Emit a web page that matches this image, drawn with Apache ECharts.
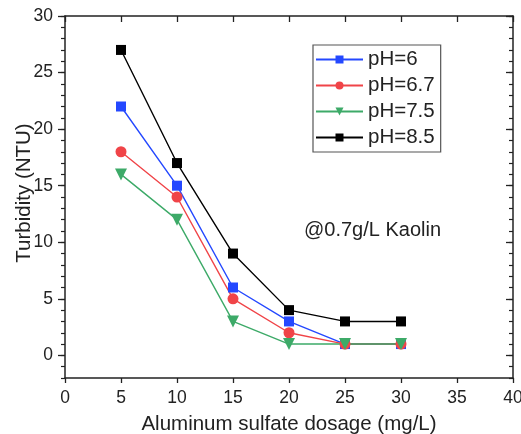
<!DOCTYPE html>
<html><head><meta charset="utf-8">
<script src="https://cdn.jsdelivr.net/npm/echarts@6/dist/echarts.min.js"></script>
<style>html,body{margin:0;padding:0;background:#fff}#c{width:521px;height:434px}</style>
</head><body><div id="c"></div>
<script>
var dosage = [5, 10, 15, 20, 25, 30];
var ph6 = [22, 15, 6, 3, 1, 1];
var ph67 = [18, 14, 5, 2, 1, 1];
var ph75 = [16, 12, 3, 1, 1, 1];
var ph85 = [27, 17, 9, 4, 3, 3];
var yMajor = [0, 5, 10, 15, 20, 25, 30];
var seriesNames = ['pH=6', 'pH=6.7', 'pH=7.5', 'pH=8.5'];

function pairs(v){ return dosage.map(function(x,i){ return [x, v[i]]; }); }
var FONT = 'Liberation Sans, Arial, sans-serif';
var AX = '#222';
var lineAxis = {onZero:false, lineStyle:{color:AX, width:1.5}};

var chart = echarts.init(document.getElementById('c'));
function mk(name, data, color, symbol, size, rot){
  return {name:name, type:'line', data:pairs(data), xAxisIndex:0, yAxisIndex:0,
    symbol:symbol, symbolSize:size, symbolRotate:rot||0, itemStyle:{color:color},
    lineStyle:{color:color, width:1.4}, animation:false};
}
chart.setOption({
  animation:false,
  backgroundColor:'#fff',
  grid:{left:65, right:8, top:16, bottom:56, containLabel:false, outerBoundsMode:'none'},
  xAxis:[
    {type:'value', position:'bottom', min:0, max:40, interval:5,
     axisLine:lineAxis, axisTick:{length:5, lineStyle:{color:AX, width:1.3}},
     axisLabel:{color:AX, fontSize:17.5, fontFamily:FONT, margin:11},
     splitLine:{show:false},
     name:'Aluminum sulfate dosage (mg/L)', nameLocation:'middle', nameGap:36,
     nameTextStyle:{color:AX, fontSize:20.5, fontFamily:FONT}},
    {type:'value', position:'top', min:0, max:40, interval:5,
     axisLine:lineAxis, axisTick:{inside:true, length:6, lineStyle:{color:AX, width:1.3}},
     axisLabel:{show:false}, splitLine:{show:false}}
  ],
  yAxis:[
    {type:'value', position:'left', min:-2, max:30,
     axisLine:lineAxis,
     axisTick:{length:7, customValues:yMajor, lineStyle:{color:AX, width:1.3}},
     axisLabel:{customValues:yMajor, color:AX, fontSize:17.5, fontFamily:FONT, margin:12},
     splitLine:{show:false}},
    {type:'value', position:'left', min:-2, max:30, interval:1,
     axisLine:{show:false, onZero:false}, axisTick:{length:4, lineStyle:{color:AX, width:1.2}},
     axisLabel:{show:false}, splitLine:{show:false}},
    {type:'value', position:'right', min:-2, max:30,
     axisLine:lineAxis,
     axisTick:{inside:true, length:7, customValues:yMajor, lineStyle:{color:AX, width:1.3}},
     axisLabel:{show:false}, splitLine:{show:false}},
    {type:'value', position:'right', min:-2, max:30, interval:1,
     axisLine:{show:false, onZero:false}, axisTick:{inside:true, length:4, lineStyle:{color:AX, width:1.2}},
     axisLabel:{show:false}, splitLine:{show:false}}
  ],
  legend:{
    orient:'vertical', left:313, top:45,
    data:seriesNames,
    itemWidth:47, itemHeight:10, itemGap:5,
    padding:[4,6,4,2],
    borderColor:'#555', borderWidth:1.2,
    textStyle:{color:AX, fontSize:20.5, fontFamily:FONT, lineHeight:20}
  },
  graphic:[
    {type:'text', left:304, top:220,
     style:{text:'@0.7g/L Kaolin', fill:AX, fontSize:20, fontFamily:FONT}},
    {type:'text', x:24, y:193, rotation:Math.PI/2,
     style:{text:'Turbidity (NTU)', fill:AX, fontSize:20.5, fontFamily:FONT,
            align:'center', verticalAlign:'middle'}}
  ],
  series:[
    mk(seriesNames[0], ph6, '#2448ff', 'rect', 10),
    mk(seriesNames[1], ph67, '#f04448', 'circle', 11),
    mk(seriesNames[2], ph75, '#3daa68', 'triangle', 12, 180),
    mk(seriesNames[3], ph85, '#000000', 'rect', 10)
  ]
});
</script>
</body></html>
